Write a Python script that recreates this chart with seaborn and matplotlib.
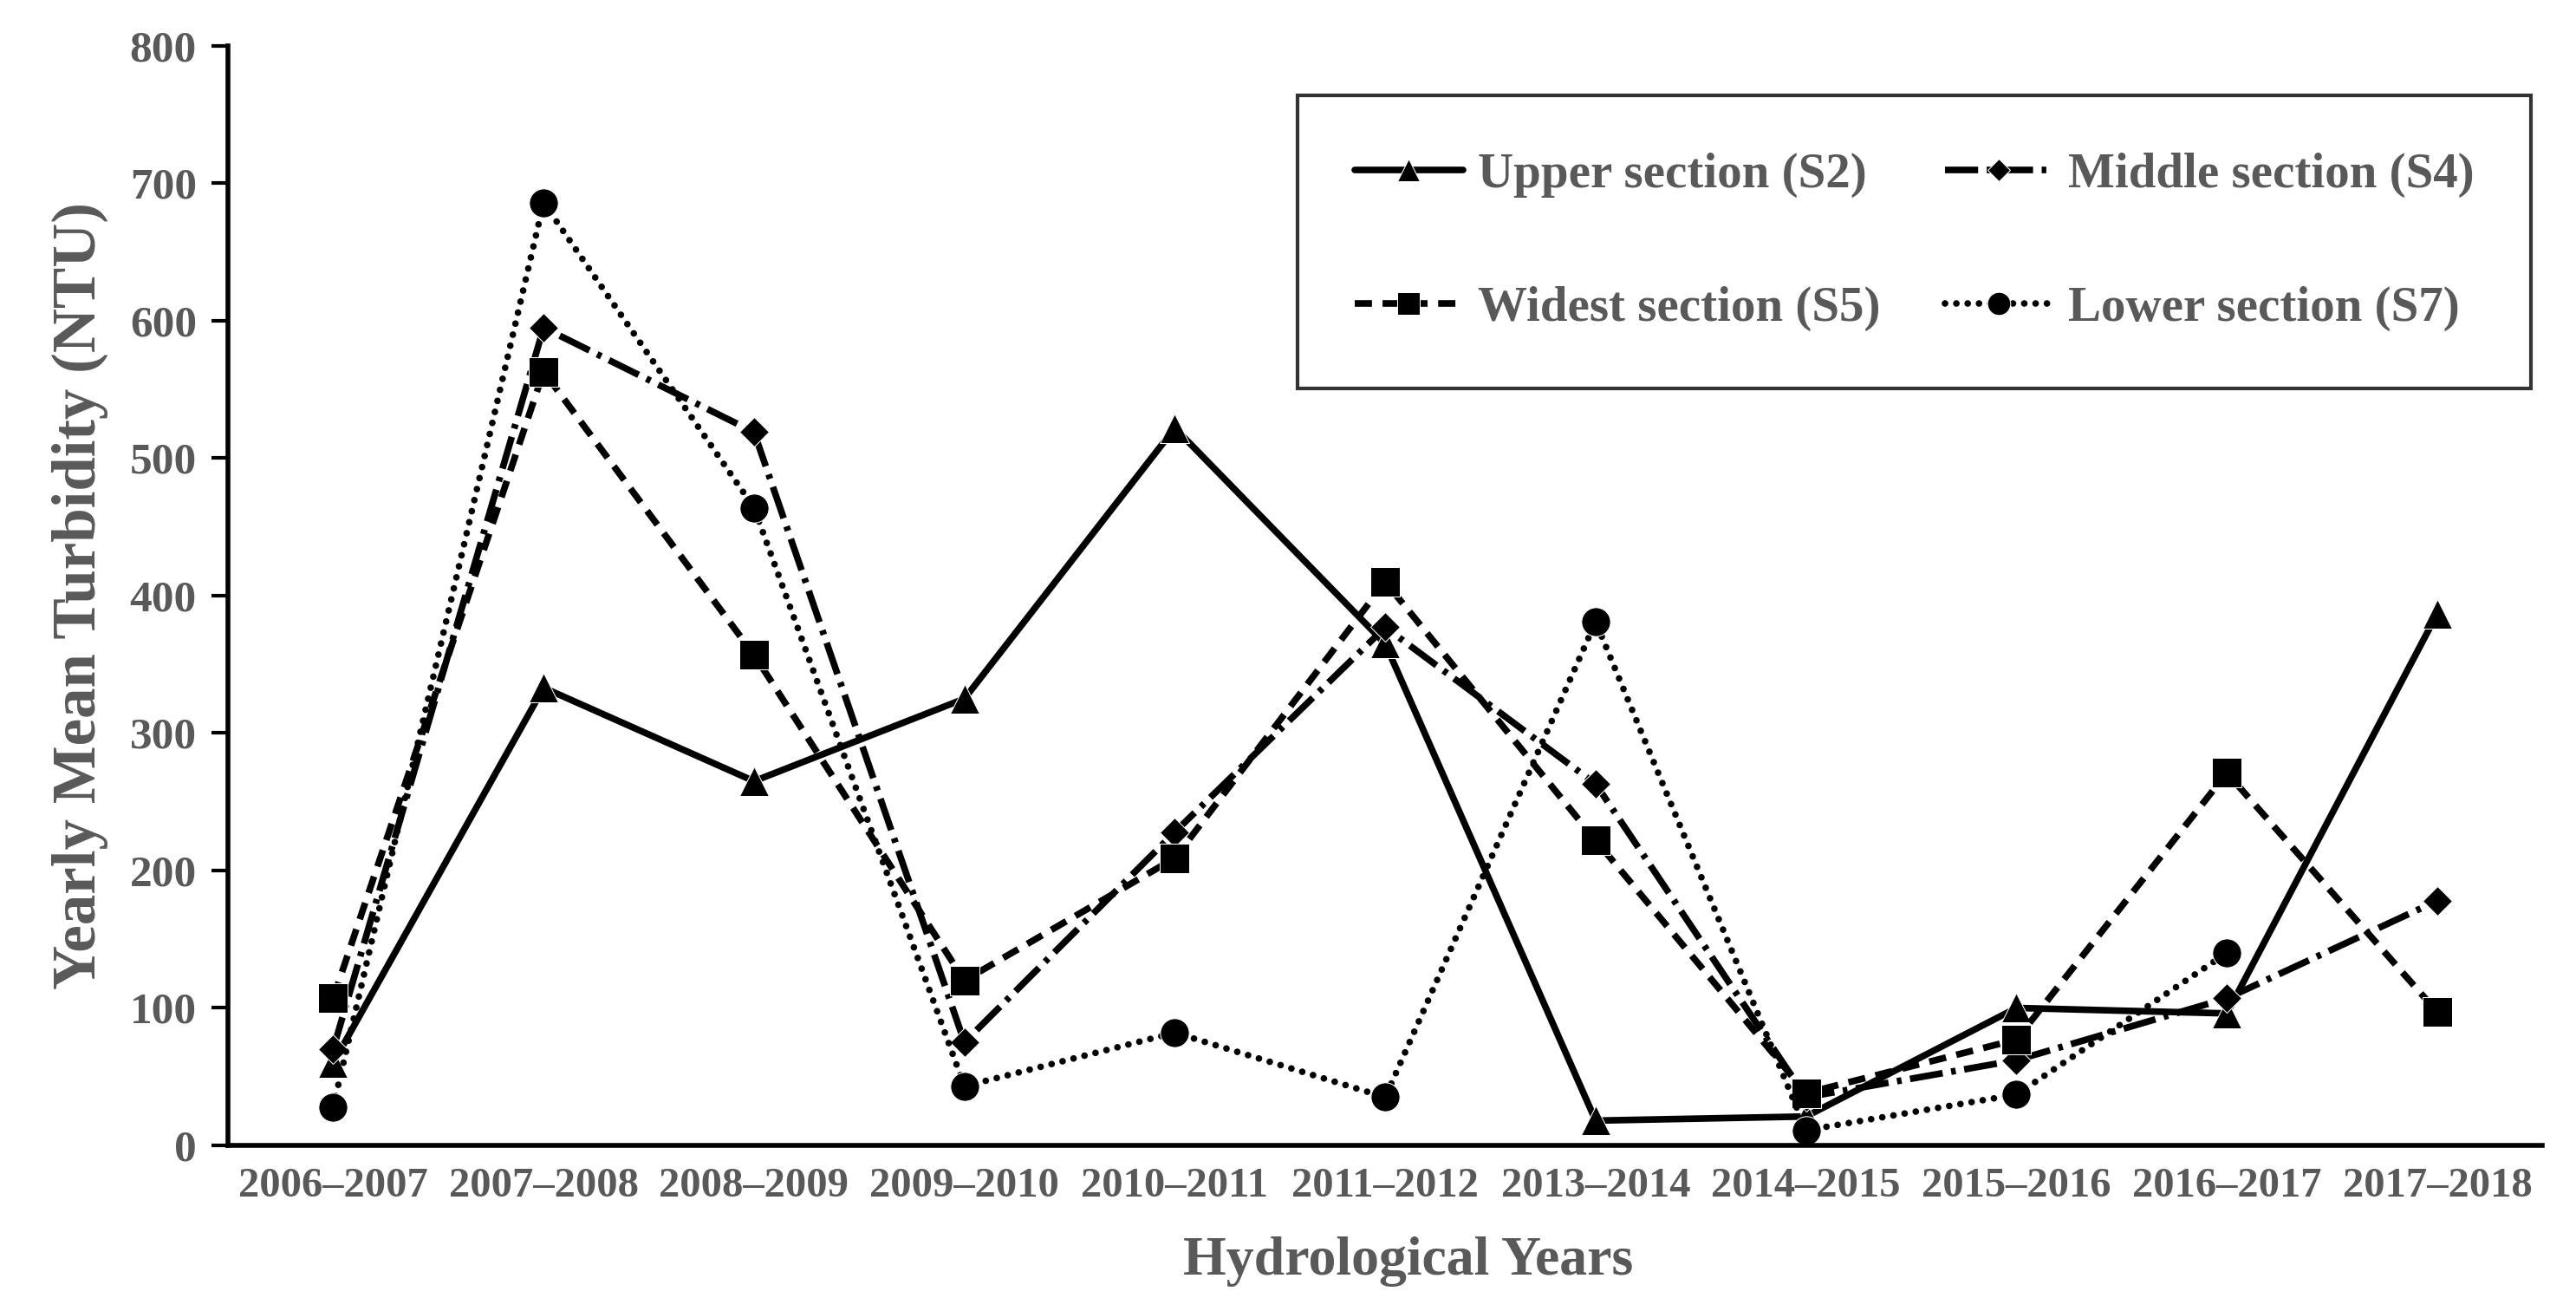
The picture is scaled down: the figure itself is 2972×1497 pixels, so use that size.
import matplotlib

matplotlib.use("Agg")
import matplotlib.pyplot as plt
import numpy as np
import pandas as pd
import seaborn as sns

# --- data ------------------------------------------------------------------
anios = ["2006–2007", "2007–2008", "2008–2009", "2009–2010", "2010–2011", "2011–2012",
         "2013–2014", "2014–2015", "2015–2016", "2016–2017", "2017–2018"]
upper_s2 = [60, 333, 265, 325, 522, 365, 18, 21, 100, 96, 387]
middle_s4 = [70, 595, 519, 75, 228, 377, 263, 35, 62, 107, 178]
widest_s5 = [107, 563, 357, 120, 209, 410, 222, 38, 77, 271, 97]
lower_s7 = [28, 686, 464, 43, 82, 35, 381, 11, 37, 140, np.nan]

series = {
    "Upper section (S2)": upper_s2,
    "Middle section (S4)": middle_s4,
    "Widest section (S5)": widest_s5,
    "Lower section (S7)": lower_s7,
}

GRIS = "#595959"
FUENTE = ["Liberation Serif", "DejaVu Serif"]

sns.set_theme(style="white")
plt.rcParams["font.family"] = FUENTE
plt.rcParams["font.weight"] = "bold"

estilos = {
    "Upper section (S2)": dict(marker="^", linestyle="-"),
    "Middle section (S4)": dict(marker="D", linestyle=(0, (5, 1.3, 0.7, 1.3)), markersize=17),
    "Widest section (S5)": dict(marker="s", linestyle=(0, (2.6, 1.6))),
    "Lower section (S7)": dict(marker="o", linestyle=(0, (0.01, 1.7)), dash_capstyle="round"),
}

fig = plt.figure(figsize=(29.72, 14.97), dpi=100)
ax = fig.add_axes([0.0885, 0.1176, 0.8985, 0.847])

x = np.arange(len(anios))
for nombre, valores in series.items():
    df = pd.DataFrame({"x": x, "y": valores}).dropna()
    kw = dict(markersize=24, linewidth=5.5, color="black")
    kw.update(estilos[nombre])
    sns.lineplot(data=df, x="x", y="y", ax=ax, label=nombre, **kw)

ax.set_xlim(-0.5, len(anios) - 0.5)
ax.set_ylim(0, 800)
ax.set_yticks(np.arange(0, 801, 100))
ax.set_xticks(x)
ax.set_xticklabels(anios)
ax.set_xticks(np.arange(-0.5, len(anios)), minor=True)
ax.tick_params(axis="x", which="major", length=0, pad=18, labelsize=35, labelcolor=GRIS)
ax.tick_params(axis="x", which="minor", length=14, width=3, color="black", direction="out")
ax.tick_params(axis="y", length=14, width=3, color="black", direction="out", pad=12,
               labelsize=37, labelcolor=GRIS, left=True)
for lab in ax.get_xticklabels() + ax.get_yticklabels():
    lab.set_fontweight("bold")

for lado in ["top", "right"]:
    ax.spines[lado].set_visible(False)
for lado in ["left", "bottom"]:
    ax.spines[lado].set_color("black")
    ax.spines[lado].set_linewidth(4)

ax.set_xlabel("Hydrological Years", fontsize=46, fontweight="bold", color=GRIS, labelpad=26)
ax.xaxis.label.set_x(0.51)
ax.set_ylabel("Yearly Mean Turbidity (NTU)", fontsize=51, fontweight="bold", color=GRIS, labelpad=18)

# orden por filas: Upper, Middle / Widest, Lower (matplotlib llena por columnas)
handles, labels = ax.get_legend_handles_labels()
orden = [0, 2, 1, 3]
leg = ax.legend([handles[i] for i in orden], [labels[i] for i in orden],
                loc="upper right", bbox_to_anchor=(0.995, 0.955), ncol=2, fontsize=41,
                frameon=True, fancybox=False, edgecolor="black", handlelength=2.2,
                handletextpad=0.3, columnspacing=1.3, labelspacing=1.8,
                borderpad=1.15, borderaxespad=0, markerscale=0.8)
leg.get_frame().set_linewidth(3)
for t in leg.get_texts():
    t.set_color(GRIS)
    t.set_fontweight("bold")

fig.savefig("out.png", dpi=100, facecolor="white")
